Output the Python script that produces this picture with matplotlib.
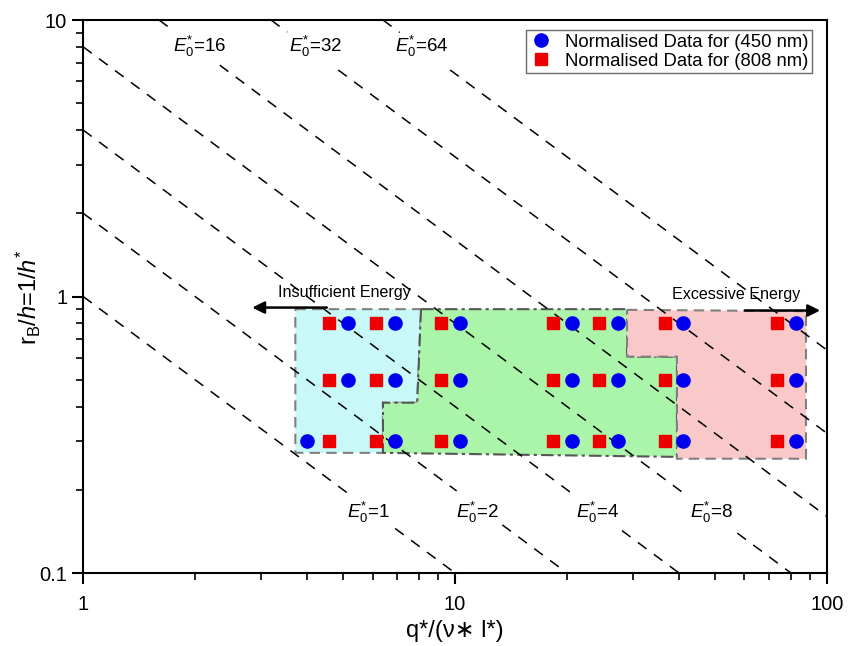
import numpy as np
import matplotlib
matplotlib.use('Agg')
import matplotlib.pyplot as plt

plt.rcParams['font.family'] = ['Liberation Sans', 'DejaVu Sans']
plt.rcParams['mathtext.fontset'] = 'custom'
plt.rcParams['mathtext.rm'] = 'Liberation Sans'
plt.rcParams['mathtext.it'] = 'Liberation Sans:italic'

# --- measured points (normalised) ---
y_rows = [0.8, 0.5, 0.3]
blue_x_top = [5.16, 6.9, 10.3, 20.6, 27.4, 41.0, 82.5]   # rows 0.8 and 0.5
blue_x_bottom = [4.0, 6.9, 10.3, 20.6, 27.4, 41.0, 82.5]  # row 0.3
red_x = [4.58, 6.13, 9.17, 18.3, 24.4, 36.7, 73.4]       # all rows

# --- constant energy density lines E0* = x * y ---
energy_levels = [1, 2, 4, 8, 16, 32, 64]
# x-ranges where each line is broken to leave room for its label
line_gaps = {1: (5.23, 6.9), 2: (10.1, 13.4), 4: (21.0, 28.1), 8: (41.1, 57.4),
             16: (1.74, 2.33), 32: (3.54, 4.85), 64: (7.1, 9.7)}
label_pos = {1: (5.84, 0.166), 2: (11.5, 0.166), 4: (24.2, 0.166), 8: (48.8, 0.165),
             16: (2.06, 8.05), 32: (4.23, 8.05), 64: (8.15, 8.05)}

# --- process window regions (x, y vertices) ---
low_x = [3.72, 8.10, 7.91, 6.40, 6.40, 3.72]
low_y = [0.90, 0.90, 0.413, 0.413, 0.272, 0.272]
mid_x = [8.10, 29.0, 29.0, 39.5, 39.5, 6.40, 6.40, 7.91]
mid_y = [0.90, 0.90, 0.606, 0.606, 0.263, 0.272, 0.413, 0.413]
high_x = [29.0, 87.8, 87.8, 39.5, 39.5, 29.0]
high_y = [0.895, 0.885, 0.259, 0.259, 0.606, 0.606]

fig = plt.figure(figsize=(8.57, 6.46), dpi=100)
ax = fig.add_axes([0.097, 0.113, 0.868, 0.856])
ax.set_xscale('log')
ax.set_yscale('log')
ax.set_xlim(1, 100)
ax.set_ylim(0.1, 10)

ax.fill(low_x, low_y, facecolor='#c8f8f8', edgecolor='#808080', lw=1.5,
        linestyle=(0, (5, 3)), zorder=1)
ax.fill(mid_x, mid_y, facecolor='#aaf5aa', edgecolor='#555555', lw=1.5,
        linestyle=(0, (6, 2, 1.5, 2)), zorder=1)
ax.fill(high_x, high_y, facecolor='#f9c8c8', edgecolor='#808080', lw=1.5,
        linestyle=(0, (5, 3)), zorder=1)

for e in energy_levels:
    x0, x1 = max(1.0, e / 10.0), min(100.0, e / 0.1)
    g0, g1 = line_gaps[e]
    for a, b in [(x0, g0), (g1, x1)]:
        xs = np.geomspace(a, b, 50)
        ax.plot(xs, e / xs, color='black', lw=1.1, linestyle=(0, (7, 6)),
                zorder=2, clip_on=False)
    lx, ly = label_pos[e]
    ax.text(lx, ly, r'$\mathit{E}_0^{*}$' + '=%d' % e, fontsize=13.5,
            ha='center', va='center', zorder=3)

# data points
for y in y_rows:
    bx = blue_x_bottom if y == y_rows[-1] else blue_x_top
    ax.plot(bx, [y] * len(bx), 'o', color='#0000ee', ms=9.5, zorder=4,
            label='Normalised Data for (450 nm)' if y == y_rows[0] else None)
    ax.plot(red_x, [y] * len(red_x), 's', color='#ee0000', ms=8.5, zorder=4,
            label='Normalised Data for (808 nm)' if y == y_rows[0] else None)

# energy arrows
ax.annotate('', xy=(2.8, 0.912), xytext=(4.6, 0.912),
            arrowprops=dict(arrowstyle='-|>', color='black', lw=1.8,
                            mutation_scale=18), zorder=5)
ax.text(5.03, 1.03, 'Insufficient Energy', fontsize=11.6, ha='center', va='center')
ax.annotate('', xy=(97.5, 0.89), xytext=(59.1, 0.89),
            arrowprops=dict(arrowstyle='-|>', color='black', lw=1.8,
                            mutation_scale=18), zorder=5)
ax.text(56.9, 1.02, 'Excessive Energy', fontsize=11.6, ha='center', va='center')

leg = ax.legend(loc='upper right', fontsize=13.3, frameon=True, fancybox=False,
                borderpad=0.2, handletextpad=0.7, labelspacing=0.1,
                borderaxespad=0, bbox_to_anchor=(0.980, 0.982), handlelength=1.2)
leg.get_frame().set_edgecolor('#444444')
leg.get_frame().set_linewidth(1.0)

for s in ax.spines.values():
    s.set_linewidth(1.5)
    s.set_zorder(6)
ax.tick_params(which='major', direction='out', length=8, width=1.5, labelsize=14.5,
               top=False, right=False)
ax.tick_params(which='minor', direction='out', length=5, width=1.2,
               top=False, right=False)
ax.set_xticks([1, 10, 100])
ax.set_xticklabels(['1', '10', '100'])
ax.set_yticks([0.1, 1, 10])
ax.set_yticklabels(['0.1', '1', '10'])
ax.tick_params(axis='x', pad=8)

ax.set_xlabel('q*/(\u03bd\u2217 l*)', fontsize=17, labelpad=4)
ax.set_ylabel(r'r$_\mathrm{B}$/$\mathit{h}$=1/$\mathit{h}^{*}$', fontsize=17,
              labelpad=-3)

fig.savefig('out.png', dpi=100)
